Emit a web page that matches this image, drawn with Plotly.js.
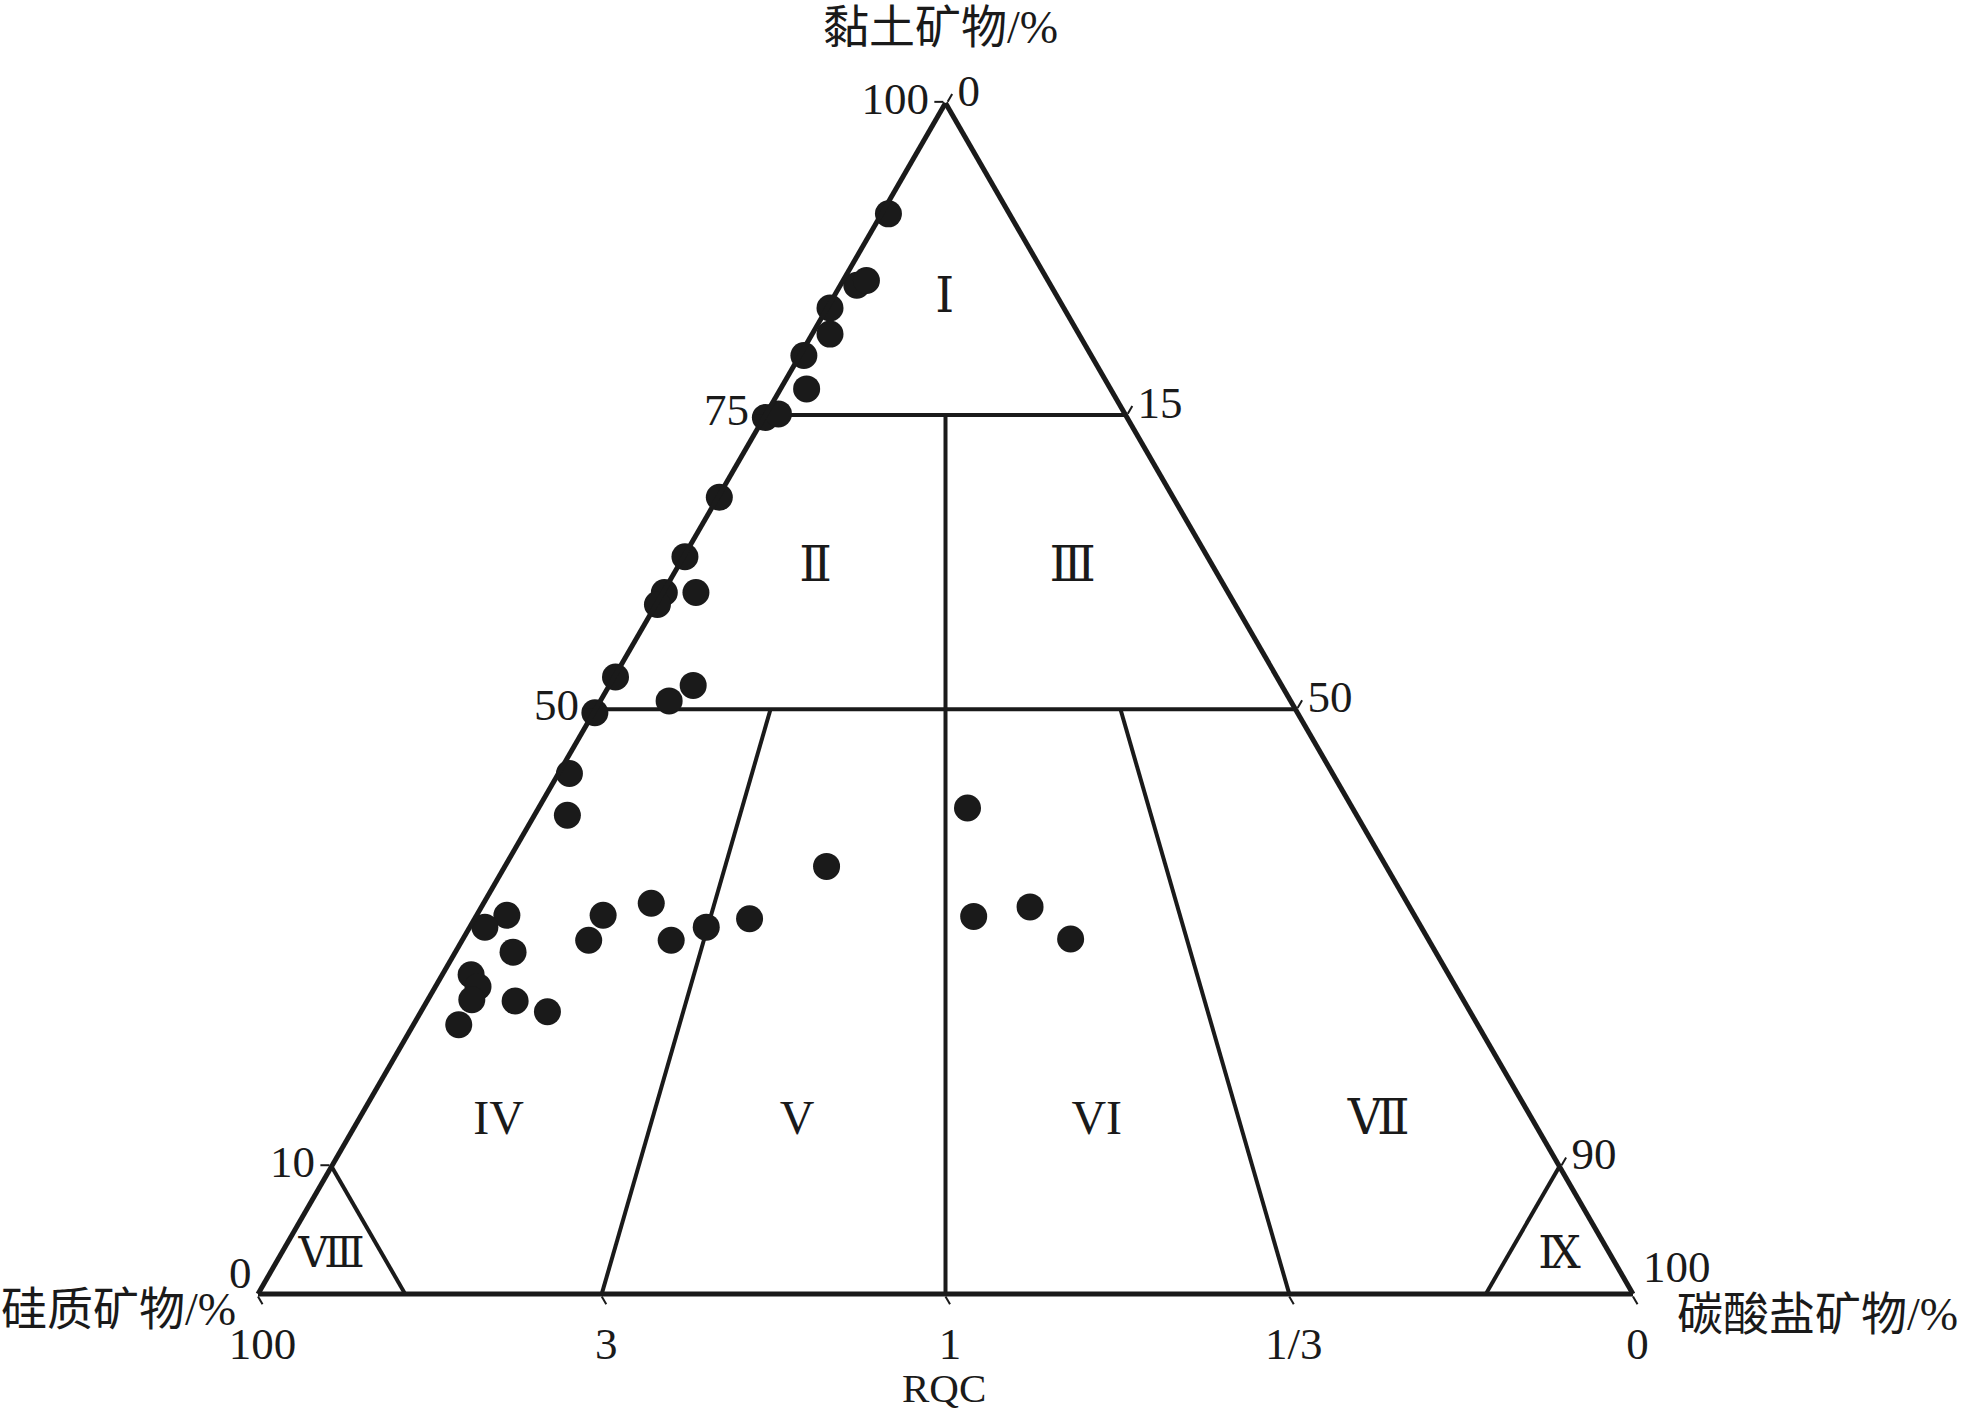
<!DOCTYPE html>
<html>
<head>
<meta charset="utf-8">
<script src="https://cdn.plot.ly/plotly-3.0.1.min.js"></script>
<style>html,body{margin:0;padding:0;background:#fff}</style>
</head>
<body>
<div id="chart" style="width:1961px;height:1417px"></div>
<script>
// Sample compositions (%)
const clay      = [90.7,84.7,85.1,82.8,80.6,78.8,76.0,73.6,73.9,66.9,61.9,58.9,57.9,58.9,51.8,48.8,49.8,51.1,43.7,40.2,35.9,31.8,30.8,28.7,26.8,25.8,24.7,22.6,24.6,23.7,31.8,29.7,32.8,29.7,30.8,31.5,40.8,31.7,32.5,29.8];
const silica    = [8.8,14.1,13.2,17.0,18.1,20.9,22.1,26.3,25.2,33.0,38.0,41.0,42.0,38.7,48.1,51.1,45.2,42.8,55.5,57.4,40.7,66.0,68.1,67.1,71.1,71.1,72.1,74.1,69.0,67.1,59.0,61.1,55.0,55.1,52.0,48.5,28.0,32.1,27.6,26.0];
const carbonate = [0.5,1.2,1.7,0.2,1.3,0.3,1.9,0.1,0.9,0.1,0.1,0.1,0.1,2.4,0.1,0.1,5.0,6.1,0.8,2.4,23.4,2.2,1.1,4.2,2.1,3.1,3.2,3.3,6.4,9.2,9.2,9.2,12.2,15.2,17.2,20.0,31.2,36.2,39.9,44.2];

// Classification boundaries (as drawn in the figure)
const clayLevels = [73.8, 49.1];        // upper / lower clay boundaries (labelled 75 and 50)
const rqcRatios  = [3, 1, 1/3];          // silica / carbonate ratio lines
const cornerLevel = 10.7;                // clay level of small corner fields (labelled 10)

// Field labels
const fieldNames = ['Ⅰ','Ⅱ','Ⅲ','IV','V','VI','Ⅶ','Ⅷ','Ⅸ'];
const fieldClay  = [83.5,60.9,60.9,14.4,14.4,14.4,14.4,3.1,3.1];
const fieldCarb  = [8.2,10.1,28.8,10.3,32.0,53.8,74.3,3.8,93.1];
const fieldSil   = fieldClay.map((a,i)=>100-a-fieldCarb[i]);

// Axis tick labels
const clayTickVals = [cornerLevel, clayLevels[1], clayLevels[0], 100];
const clayTickText = ['10','50','75','100'];
const rqcTickVals  = [0, 25, 50, 75, 100];
const rqcTickText  = ['0','1/3','1','3','100'];
const carbTickVals = [0, 100-clayLevels[0], 100-clayLevels[1], 100-cornerLevel];
const carbTickText = ['0','15','50','90'];

// build boundary segments
const la=[], lb=[], lc=[];
function seg(p, q){ la.push(p[0],q[0],null); lb.push(p[1],q[1],null); lc.push(p[2],q[2],null); }
function onRatio(a, r){ const c=(100-a)/(1+r); return [a, r*c, c]; }
clayLevels.forEach(a => seg([a,100-a,0],[a,0,100-a]));
seg(onRatio(clayLevels[0],1), onRatio(0,1));
seg(onRatio(clayLevels[1],rqcRatios[0]), onRatio(0,rqcRatios[0]));
seg(onRatio(clayLevels[1],rqcRatios[2]), onRatio(0,rqcRatios[2]));
seg([cornerLevel,100-cornerLevel,0],[0,100-cornerLevel,cornerLevel]);
seg([cornerLevel,0,100-cornerLevel],[0,cornerLevel,100-cornerLevel]);

const ink = '#1a1a1a';
const serif = '"Liberation Serif", "Times New Roman", "DejaVu Serif", serif';
const cjk = '"Liberation Serif", "Noto Sans CJK SC", serif';

const traces = [
  {type:'scatterternary', mode:'lines', a:la, b:lb, c:lc,
   line:{color:ink, width:4}, hoverinfo:'skip', showlegend:false, cliponaxis:false},
  {type:'scatterternary', mode:'markers', a:clay, b:silica, c:carbonate,
   marker:{size:27, color:ink, line:{width:0}}, showlegend:false, cliponaxis:false},
  {type:'scatterternary', mode:'text', a:fieldClay, b:fieldSil, c:fieldCarb, text:fieldNames,
   textposition:'middle center', textfont:{family:serif, size:[48,48,48,48,48,48,48,42,44], color:ink},
   hoverinfo:'skip', showlegend:false, cliponaxis:false}
];

function axis(vals, txt){
  return {tickmode:'array', tickvals:vals, ticktext:txt, showgrid:false,
    showline:true, linecolor:ink, linewidth:5, ticks:'outside', ticklen:9, tickwidth:2, tickcolor:ink,
    tickfont:{family:serif, size:45, color:ink}, title:{text:''}};
}

const layout = {
  width:1961, height:1417,
  margin:{l:258, r:328, t:103, b:123},
  paper_bgcolor:'#fff',
  showlegend:false,
  ternary:{sum:100, bgcolor:'#fff',
    aaxis:axis(clayTickVals, clayTickText),
    baxis:axis(rqcTickVals, rqcTickText),
    caxis:axis(carbTickVals, carbTickText)},
  annotations:[
    {text:'黏土矿物/%', xref:'paper', yref:'paper', x:0.496, y:1.063, xanchor:'center', yanchor:'middle', showarrow:false, font:{family:cjk, size:46, color:ink}},
    {text:'硅质矿物/%', xref:'paper', yref:'paper', x:-0.0145, y:-0.0134, xanchor:'right', yanchor:'middle', showarrow:false, font:{family:cjk, size:46, color:ink}},
    {text:'碳酸盐矿物/%', xref:'paper', yref:'paper', x:1.0305, y:-0.0176, xanchor:'left', yanchor:'middle', showarrow:false, font:{family:cjk, size:46, color:ink}},
    {text:'0', xref:'paper', yref:'paper', x:-0.0124, y:0.0176, xanchor:'center', yanchor:'middle', showarrow:false, font:{family:serif, size:45, color:ink}},
    {text:'100', xref:'paper', yref:'paper', x:1.0058, y:0.023, xanchor:'left', yanchor:'middle', showarrow:false, font:{family:serif, size:45, color:ink}},
    {text:'RQC', xref:'paper', yref:'paper', x:0.499, y:-0.1, xanchor:'center', yanchor:'bottom', showarrow:false, font:{family:serif, size:41, color:ink}}
  ]
};

Plotly.newPlot('chart', traces, layout, {displayModeBar:false, staticPlot:true});
</script>
</body>
</html>
